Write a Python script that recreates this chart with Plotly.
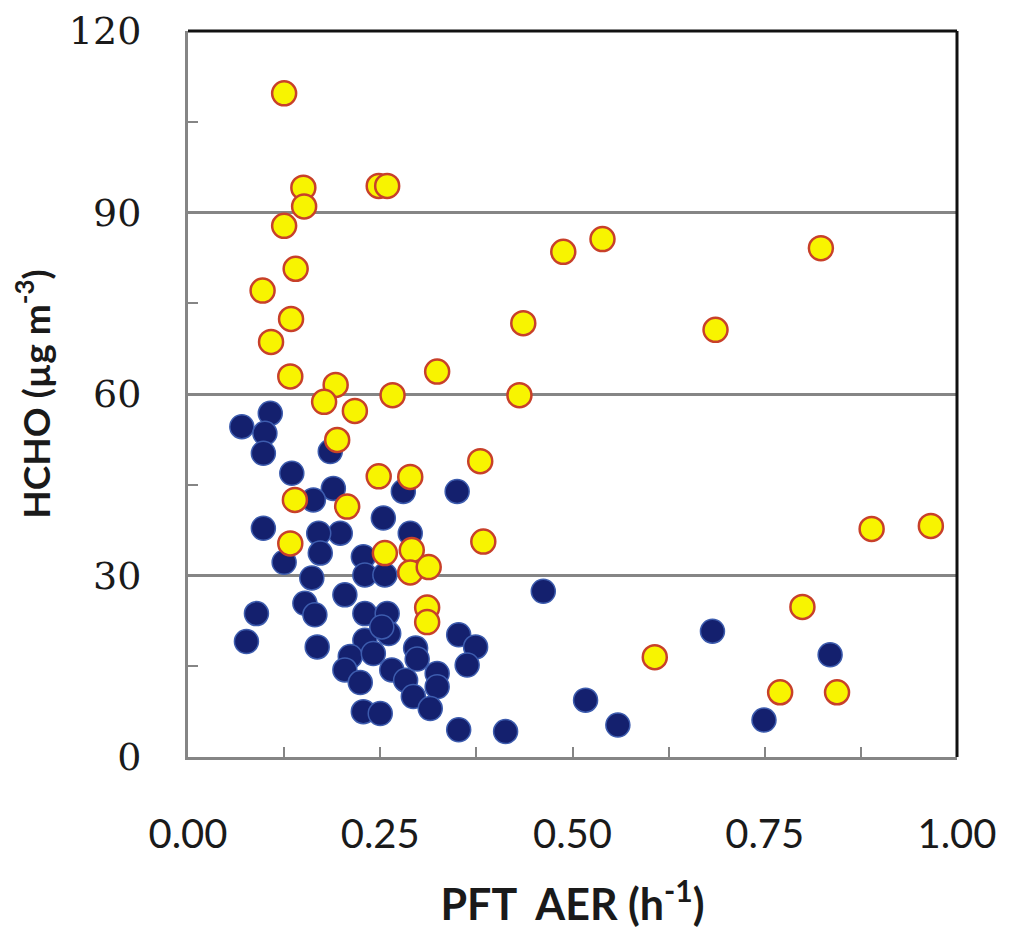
import plotly.graph_objects as go

# Yellow series (AER h-1, HCHO ug m-3)
yellow_aer = [0.125, 0.150, 0.151, 0.248, 0.259, 0.125, 0.140, 0.097, 0.134, 0.108,
              0.133, 0.324, 0.192, 0.177, 0.266, 0.217, 0.194, 0.248, 0.289, 0.139,
              0.207, 0.133, 0.256, 0.291, 0.289, 0.313, 0.311, 0.311, 0.380, 0.384,
              0.488, 0.539, 0.823, 0.436, 0.686, 0.431, 0.889, 0.966, 0.799, 0.607,
              0.770, 0.844]
yellow_hcho = [109.7, 94.1, 91.0, 94.4, 94.4, 87.8, 80.7, 77.1, 72.4, 68.6,
               62.9, 63.7, 61.5, 58.7, 59.8, 57.2, 52.4, 46.4, 46.3, 42.5,
               41.4, 35.3, 33.7, 34.2, 30.5, 31.4, 24.7, 22.3, 48.9, 35.6,
               83.5, 85.6, 84.1, 71.7, 70.6, 59.8, 37.7, 38.2, 24.8, 16.5,
               10.7, 10.7]

# Blue series
blue_aer = [0.107, 0.070, 0.100, 0.098, 0.135, 0.189, 0.163, 0.185, 0.254, 0.098,
            0.198, 0.170, 0.172, 0.125, 0.228, 0.161, 0.230, 0.256, 0.204, 0.152,
            0.165, 0.089, 0.076, 0.168, 0.230, 0.259, 0.230, 0.261, 0.211, 0.204,
            0.224, 0.241, 0.265, 0.283, 0.296, 0.298, 0.324, 0.324, 0.293, 0.315,
            0.352, 0.374, 0.363, 0.228, 0.250, 0.352, 0.413, 0.280, 0.350, 0.289,
            0.462, 0.682, 0.835, 0.517, 0.559, 0.749, 0.252]
blue_hcho = [56.8, 54.6, 53.5, 50.2, 46.9, 44.4, 42.5, 50.5, 39.5, 37.8,
             37.0, 37.0, 33.7, 32.2, 33.1, 29.6, 30.1, 30.1, 26.8, 25.4,
             23.5, 23.7, 19.1, 18.2, 23.7, 23.7, 19.3, 20.4, 16.6, 14.4,
             12.3, 17.1, 14.4, 12.7, 18.0, 16.2, 13.8, 11.6, 10.0, 8.0,
             20.2, 18.2, 15.2, 7.5, 7.2, 4.5, 4.2, 43.9, 43.9, 37.0,
             27.4, 20.8, 16.9, 9.4, 5.3, 6.1, 21.5]

x_ticks = [0.0, 0.25, 0.5, 0.75, 1.0]
x_tick_labels = ["0.00", "0.25", "0.50", "0.75", "1.00"]
y_ticks = [0, 30, 60, 90, 120]
y_tick_labels = ["0", "30", "60", "90", "120"]

fig = go.Figure()
fig.add_trace(go.Scatter(
    x=blue_aer, y=blue_hcho, mode="markers",
    marker=dict(size=24, color="#14206e", line=dict(color="#3d5cae", width=1.5)),
    showlegend=False, cliponaxis=False))
fig.add_trace(go.Scatter(
    x=yellow_aer, y=yellow_hcho, mode="markers",
    marker=dict(size=24, color="#F8F400", line=dict(color="#C8402A", width=2.5)),
    showlegend=False, cliponaxis=False))

grey = "#858585"
fig.update_layout(
    width=1001, height=925,
    margin=dict(l=180, r=45, t=23, b=176),
    plot_bgcolor="white", paper_bgcolor="white",
    xaxis=dict(
        range=[0, 1.0], tickvals=x_ticks, ticktext=x_tick_labels,
        ticks="inside", ticklen=10, tickwidth=2, tickcolor=grey,
        minor=dict(dtick=0.125, tick0=0, ticks="inside", ticklen=10, tickwidth=2, tickcolor=grey, showgrid=False),
        showgrid=False, zeroline=False,
        showline=True, linecolor=grey, linewidth=3,
        tickfont=dict(family="Lato", size=40, color="#1a1a1a"),
        ticklabelstandoff=40,
        title=dict(text="<b>PFT&nbsp; AER (h<sup>-1</sup>)</b>",
                   font=dict(family="Lato", size=43, color="#1a1a1a"), standoff=34),
    ),
    yaxis=dict(
        range=[0, 120], tickvals=y_ticks, ticktext=y_tick_labels,
        ticks="inside", ticklen=10, tickwidth=2, tickcolor=grey,
        minor=dict(dtick=15, tick0=0, ticks="inside", ticklen=10, tickwidth=2, tickcolor=grey, showgrid=False),
        showgrid=True, gridcolor=grey, gridwidth=2.5, zeroline=False,
        showline=True, linecolor=grey, linewidth=3,
        tickfont=dict(family="DejaVu Serif", size=38, color="#1a1a1a"),
        ticklabelstandoff=36,
        automargin=False,
        title=dict(text="<b>HCHO (µg m<sup>-3</sup>)</b>",
                   font=dict(family="Lato", size=37, color="#1a1a1a")),
    ),
    shapes=[
        dict(type="line", xref="paper", yref="paper", x0=0, x1=1, y0=1, y1=1,
             line=dict(color="#111111", width=3)),
        dict(type="line", xref="paper", yref="paper", x0=1, x1=1, y0=0, y1=1,
             line=dict(color="#111111", width=3)),
    ],
)

fig.write_html("out.html")
